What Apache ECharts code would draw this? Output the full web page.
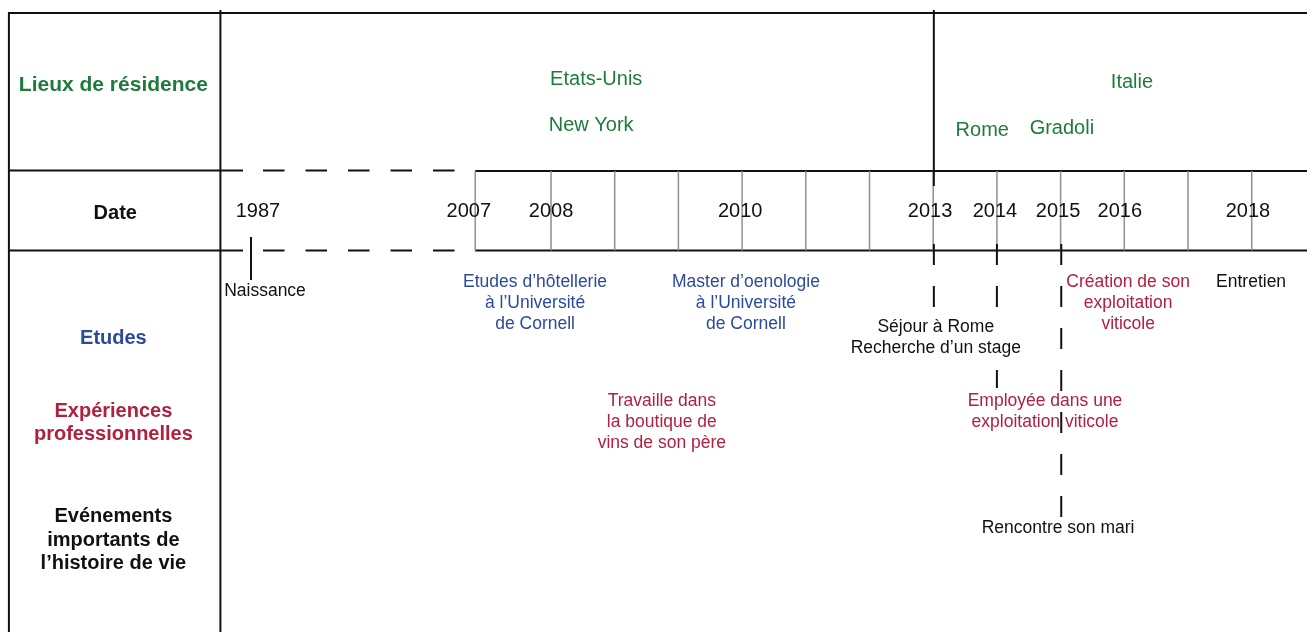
<!DOCTYPE html>
<html><head><meta charset="utf-8">
<script src="https://cdn.jsdelivr.net/npm/echarts@6/dist/echarts.min.js"></script>
<style>html,body{margin:0;padding:0;background:#fff}#c{width:1307px;height:632px}</style>
</head><body><div id="c"></div>
<script>
// ---------------- DATA ----------------
const rowLabels = ['Lieux de résidence', 'Date', 'Etudes', 'Expériences\nprofessionnelles', 'Evénements\nimportants de\nl’histoire de vie'];
const residence = ['Etats-Unis', 'New York', 'Italie', 'Rome', 'Gradoli'];
const years = ['1987', '2007', '2008', '2010', '2013', '2014', '2015', '2016', '2018'];
// timeline slot of each year (x axis unit = one cell of the date row)
const yearSlot = [-3.6, -0.29, 1, 3.97, 6.95, 7.97, 8.96, 9.93, 11.94];
const cellLines = [1, 2, 3, 4, 5, 6, 7, 8, 9, 10, 11, 12];
const studies = ['Etudes d’hôtellerie\nà l’Université\nde Cornell', 'Master d’oenologie\nà l’Université\nde Cornell'];
const work = ['Travaille dans\nla boutique de\nvins de son père', 'Employée dans une\nexploitation viticole', 'Création de son\nexploitation\nviticole'];
const lifeEvents = ['Naissance', 'Séjour à Rome\nRecherche d’un stage', 'Rencontre son mari', 'Entretien'];

// ---------------- LAYOUT (slot units on x, row units on y) ----------------
const X_MIN = -7.65, X_MAX = 12.868;
const FRAME_L = -7.51, COL_DIV = -4.19, BOX_L = -0.19, RIGHT = 12.9;
const LEFT_CENTER = -5.87;
const rowLabelPos = [[LEFT_CENTER, 85], [LEFT_CENTER + 0.03, 213], [LEFT_CENTER, 338], [LEFT_CENTER, 423], [LEFT_CENTER, 540]];
const rowLabelStyle = ['green', 'black', 'blue', 'red', 'black'];
const residencePos = [[1.71, 79], [1.63, 125], [10.12, 82], [7.77, 130], [9.02, 128]];
const studiesPos = [[0.75, 303], [4.06, 303]];
const workPos = [[2.74, 422], [8.755, 412], [10.06, 303]];
const eventPos = [[-3.49, 291], [7.04, 338], [8.96, 528], [11.99, 282]];

const C = { green: '#1f7b3b', blue: '#2c4a9b', red: '#b0203f', black: '#111111' };
const FONT = "'Liberation Sans', Arial, sans-serif";
const textStyles = {
  side: (c) => ({ font: 'bold 20px ' + FONT, fill: C[c], lineHeight: 23.5 }),
  sideBig: (c) => ({ font: 'bold 21px ' + FONT, fill: C[c], lineHeight: 24 }),
  place: { font: '20px ' + FONT, fill: C.green, lineHeight: 22 },
  year: { font: '20px ' + FONT, fill: C.black, lineHeight: 22 },
  ev: (c) => ({ font: '17.5px ' + FONT, fill: C[c], lineHeight: 21 })
};

const texts = [];
rowLabels.forEach((t, i) => texts.push({ x: rowLabelPos[i][0], y: rowLabelPos[i][1], text: t,
  style: i === 0 ? textStyles.sideBig(rowLabelStyle[i]) : textStyles.side(rowLabelStyle[i]) }));
residence.forEach((t, i) => texts.push({ x: residencePos[i][0], y: residencePos[i][1], text: t, style: textStyles.place }));
years.forEach((t, i) => texts.push({ x: yearSlot[i], y: 211, text: t, style: textStyles.year }));
studies.forEach((t, i) => texts.push({ x: studiesPos[i][0], y: studiesPos[i][1], text: t, style: textStyles.ev('blue') }));
work.forEach((t, i) => texts.push({ x: workPos[i][0], y: workPos[i][1], text: t, style: textStyles.ev('red') }));
lifeEvents.forEach((t, i) => texts.push({ x: eventPos[i][0], y: eventPos[i][1], text: t, style: textStyles.ev('black') }));

// line kinds: 0 frame black, 1 grey cell line, 2 dashed black row, 3 dashed tick, 4 solid tick
const lineStyles = [
  { c: '#111', w: 2 },
  { c: '#8f8f8f', w: 1.5 },
  { c: '#111', w: 2, d: [21.5, 21] },
  { c: '#111', w: 2, d: [21, 21] },
  { c: '#111', w: 2 }
];
const segs = [
  [FRAME_L, 13, RIGHT, 13, 0],
  [FRAME_L, 12, FRAME_L, 640, 0],
  [COL_DIV, 10, COL_DIV, 640, 0],
  [FRAME_L, 170.5, -3.835, 170.5, 0],
  [FRAME_L, 250.5, -3.835, 250.5, 0],
  [-3.521, 170.5, -0.49, 170.5, 2],
  [-3.521, 250.5, -0.49, 250.5, 2],
  [BOX_L, 171, RIGHT, 171, 0],
  [BOX_L, 250.5, RIGHT, 250.5, 0],
  [BOX_L, 171, BOX_L, 250.5, 1]
];
cellLines.forEach(s => segs.push([s, 171, s, 250.5, 1]));
segs.push([7.01, 10, 7.01, 186, 0]);           // Etats-Unis / Italie divider
segs.push([-3.71, 237, -3.71, 280, 4]);        // Naissance
segs.push([7.01, 244, 7.01, 307, 3]);          // 2013
segs.push([8, 244, 8, 307, 3]);                // 2014
segs.push([8, 370, 8, 388, 4]);
segs.push([9.01, 244, 9.01, 517, 3]);          // 2015

const chart = echarts.init(document.getElementById('c'), null, { renderer: 'canvas' });
chart.setOption({
  backgroundColor: '#ffffff',
  animation: false,
  grid: { left: 0, right: 0, top: 0, bottom: 0 },
  xAxis: { type: 'value', min: X_MIN, max: X_MAX, show: false },
  yAxis: { type: 'value', min: 0, max: 632, inverse: true, show: false },
  series: [
    {
      type: 'custom', coordinateSystem: 'cartesian2d', clip: false,
      encode: { x: [0, 2], y: [1, 3] },
      data: segs,
      renderItem: (params, api) => {
        const p1 = api.coord([api.value(0), api.value(1)]);
        const p2 = api.coord([api.value(2), api.value(3)]);
        const st = lineStyles[api.value(4)];
        return { type: 'line', shape: { x1: p1[0], y1: p1[1], x2: p2[0], y2: p2[1] },
          style: { stroke: st.c, lineWidth: st.w, lineDash: st.d || null } };
      }
    },
    {
      type: 'custom', coordinateSystem: 'cartesian2d', clip: false,
      data: texts.map(t => [t.x, t.y]),
      renderItem: (params, api) => {
        const t = texts[params.dataIndex];
        const p = api.coord([api.value(0), api.value(1)]);
        return { type: 'text', x: p[0], y: p[1],
          style: Object.assign({ text: t.text, align: 'center', verticalAlign: 'middle' }, t.style) };
      }
    }
  ]
});
</script></body></html>
